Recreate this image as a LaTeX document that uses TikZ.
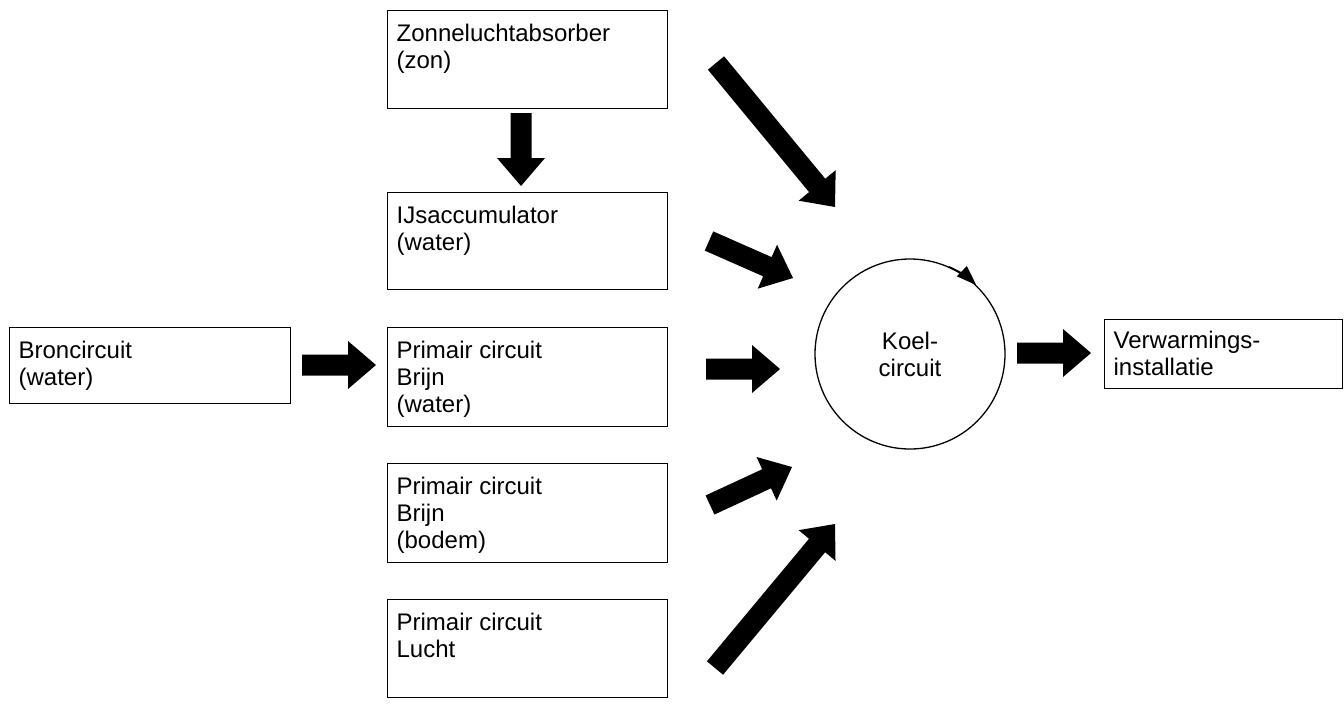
\documentclass[tikz,border=0pt]{standalone}
\usepackage{fontspec}
\setmainfont{Liberation Sans}
\usetikzlibrary{calc,arrows.meta}
\newcommand\bxt[4]{\parbox[c][#2][t]{#1}{\raggedright\leftskip=9pt\parindent=0pt\rule{0pt}{#3}#4\par}}
\newcommand\fatarrow[2]{%
  \coordinate (neck) at ($(#2)!28pt!(#1)$);
  \fill[fatfill] ($(#1)!10.5pt!90:(#2)$) -- ($(neck)!10.5pt!90:(#2)$) -- ($(neck)!24pt!90:(#2)$) -- (#2)
     -- ($(neck)!24pt!-90:(#2)$) -- ($(neck)!10.5pt!-90:(#2)$) -- ($(#1)!10.5pt!-90:(#2)$) -- cycle;}
\begin{document}
\begin{tikzpicture}[x=1pt,y=-1pt,
  txt/.style={font=\fontsize{24pt}{27pt}\selectfont},
  box/.style={txt,draw,line width=1.3pt,inner sep=0pt,anchor=north west},
  fatfill/.style={fill=black},
  ring/.style={txt,circle,draw,line width=1.3pt,minimum size=190pt,inner sep=0pt,align=center}]
\useasboundingbox (0,0) rectangle (1344,715);
% boxes
\node[box] (zon) at (387,10) {\bxt{280pt}{98pt}{31pt}{Zonneluchtabsorber\\(zon)}};
\node[box] (ijs) at (387,192) {\bxt{280pt}{97pt}{31pt}{IJsaccumulator\\(water)}};
\node[box] (pw) at (387,327) {\bxt{280pt}{99pt}{31pt}{Primair circuit\\Brijn\\(water)}};
\node[box] (pb) at (387,463) {\bxt{280pt}{99pt}{31pt}{Primair circuit\\Brijn\\(bodem)}};
\node[box] (pl) at (387,599) {\bxt{280pt}{98pt}{31pt}{Primair circuit\\Lucht}};
\node[box] (bron) at (9,327) {\bxt{281pt}{76pt}{31pt}{Broncircuit\\(water)}};
\node[box] (verw) at (1104,319) {\bxt{238pt}{69pt}{29pt}{Verwarmings-\\installatie}};
\node[ring] (koel) at (910,354) {Koel-\\circuit};
% small arrow on circle
\draw[line width=1.3pt,-{Triangle[length=20pt,width=14pt]}] (koel.66) arc[start angle=66,end angle=46,radius=95pt];
% fat arrows
\coordinate (a1s) at (521,113); \coordinate (a1e) at (521,186);
\coordinate (a2s) at (716,63);  \coordinate (a2e) at (835,207);
\coordinate (a3s) at (709,241); \coordinate (a3e) at (793,278);
\coordinate (a4s) at (706,369); \coordinate (a4e) at (780,369);
\coordinate (a5s) at (710,505); \coordinate (a5e) at (792,467);
\coordinate (a6s) at (715,668); \coordinate (a6e) at (835,524);
\coordinate (a7s) at (302,365); \coordinate (a7e) at (376,365);
\coordinate (a8s) at (1017,353); \coordinate (a8e) at (1091,353);
\fatarrow{a1s}{a1e}
\fatarrow{a2s}{a2e}
\fatarrow{a3s}{a3e}
\fatarrow{a4s}{a4e}
\fatarrow{a5s}{a5e}
\fatarrow{a6s}{a6e}
\fatarrow{a7s}{a7e}
\fatarrow{a8s}{a8e}
\end{tikzpicture}
\end{document}
